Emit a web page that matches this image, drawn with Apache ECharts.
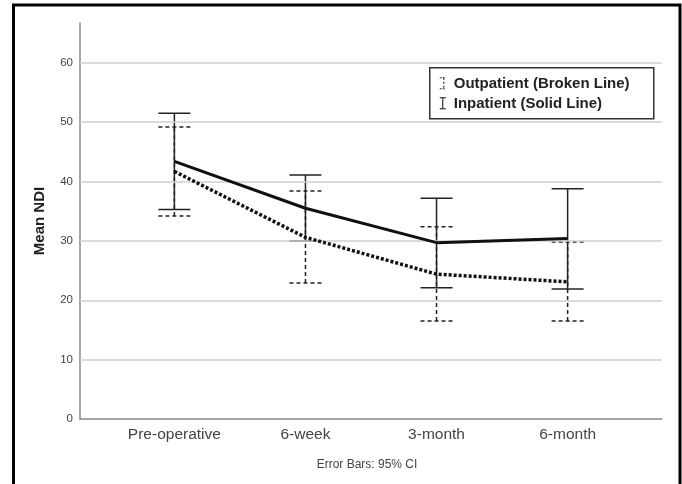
<!DOCTYPE html>
<html>
<head>
<meta charset="utf-8">
<script src="https://cdn.jsdelivr.net/npm/echarts@6/dist/echarts.min.js"></script>
<style>
  html, body { margin: 0; padding: 0; background: #fff; }
  #chart { width: 682px; height: 484px; }
</style>
</head>
<body>
<div id="chart"></div>
<script>
// Time points of the follow-up
const timepoints = ['Pre-operative', '6-week', '3-month', '6-month'];

// Mean NDI with 95% confidence limits
const inpatientMean  = [43.4, 35.5, 29.7, 30.4];
const inpatientLow   = [35.3, 30.0, 22.1, 21.9];
const inpatientHigh  = [51.5, 41.1, 37.2, 38.8];

const outpatientMean = [41.7, 30.6, 24.4, 23.1];
const outpatientLow  = [34.2, 22.9, 16.5, 16.5];
const outpatientHigh = [49.2, 38.4, 32.4, 29.8];

const yTicks = [0, 10, 20, 30, 40, 50, 60];

const FONT = '"Liberation Sans", Arial, sans-serif';

const meanPoints = arr => arr.map((v, i) => [i, v]);
const ciPoints = (lo, hi) => lo.map((v, i) => [i, v, hi[i]]);

// Whisker with caps for one confidence interval
function errorBar(dash) {
  return function (params, api) {
    const x = api.value(0);
    const lo = api.coord([x, api.value(1)]);
    const hi = api.coord([x, api.value(2)]);
    const half = 16;
    const style = { stroke: '#222', lineWidth: 1.5, lineDash: dash, fill: null };
    return {
      type: 'group',
      children: [
        { type: 'line', shape: { x1: lo[0], y1: lo[1], x2: hi[0], y2: hi[1] }, style },
        { type: 'line', shape: { x1: hi[0] - half, y1: hi[1], x2: hi[0] + half, y2: hi[1] }, style },
        { type: 'line', shape: { x1: lo[0] - half, y1: lo[1], x2: lo[0] + half, y2: lo[1] }, style }
      ]
    };
  };
}

const chart = echarts.init(document.getElementById('chart'), null, { renderer: 'canvas' });

chart.setOption({
  backgroundColor: '#fff',
  animation: false,
  textStyle: { fontFamily: FONT },
  grid: { left: 80, right: 20, top: 23, bottom: 65 },
  xAxis: {
    type: 'value',
    min: -0.72,
    max: 3.72,
    axisLine: { show: true, onZero: false, lineStyle: { color: '#8a8a8a', width: 1.5 } },
    axisTick: { show: false },
    splitLine: { show: false },
    axisLabel: {
      customValues: [0, 1, 2, 3],
      formatter: v => timepoints[Math.round(v)],
      color: '#444',
      fontSize: 15.5,
      margin: 8,
      fontFamily: FONT
    }
  },
  yAxis: {
    type: 'value',
    min: 0,
    max: 66.7,
    name: 'Mean NDI',
    nameLocation: 'middle',
    nameGap: 33,
    nameRotate: 90,
    nameTextStyle: { color: '#222', fontSize: 15, fontWeight: 'bold', fontFamily: FONT },
    axisLine: { show: true, onZero: false, lineStyle: { color: '#8a8a8a', width: 1.5 } },
    axisTick: { show: false },
    splitLine: { show: false },
    axisLabel: {
      customValues: yTicks,
      color: '#444',
      fontSize: 11.5,
      margin: 7,
      fontFamily: FONT
    }
  },
  series: [
    {
      // horizontal reference lines
      type: 'line',
      data: [],
      silent: true,
      z: 1,
      markLine: {
        silent: true,
        symbol: 'none',
        label: { show: false },
        lineStyle: { color: '#cfcfcf', width: 1.5, type: 'solid' },
        data: yTicks.filter(v => v > 0).map(v => ({ yAxis: v }))
      }
    },
    {
      name: 'Outpatient CI',
      type: 'custom',
      renderItem: errorBar([4, 3]),
      data: ciPoints(outpatientLow, outpatientHigh),
      encode: { x: 0, y: [1, 2] },
      z: 3
    },
    {
      name: 'Inpatient CI',
      type: 'custom',
      renderItem: errorBar(null),
      data: ciPoints(inpatientLow, inpatientHigh),
      encode: { x: 0, y: [1, 2] },
      z: 4
    },
    {
      name: 'Outpatient',
      type: 'line',
      data: meanPoints(outpatientMean),
      symbol: 'none',
      lineStyle: { color: '#111', width: 3.5, type: [3, 2] },
      z: 5
    },
    {
      name: 'Inpatient',
      type: 'line',
      data: meanPoints(inpatientMean),
      symbol: 'none',
      lineStyle: { color: '#111', width: 3 },
      z: 6
    }
  ],
  graphic: [
    // outer frame
    {
      type: 'rect',
      shape: { x: 13.5, y: 5, width: 666.5, height: 500 },
      style: { fill: null, stroke: '#000', lineWidth: 3 },
      silent: true
    },
    // legend
    {
      type: 'group',
      left: 429,
      top: 67,
      children: [
        { type: 'rect', shape: { x: 0, y: 0, width: 224, height: 51 }, style: { fill: '#fff', stroke: '#333', lineWidth: 1.5 } },
        // dashed whisker glyph
        { type: 'line', shape: { x1: 14, y1: 10, x2: 14, y2: 21 }, style: { stroke: '#333', lineWidth: 1.2, lineDash: [2, 2] } },
        { type: 'line', shape: { x1: 10, y1: 10, x2: 15, y2: 10 }, style: { stroke: '#333', lineWidth: 1.2, lineDash: [2, 1] } },
        { type: 'line', shape: { x1: 10, y1: 21, x2: 15, y2: 21 }, style: { stroke: '#333', lineWidth: 1.2, lineDash: [2, 1] } },
        // solid whisker glyph
        { type: 'line', shape: { x1: 13, y1: 30, x2: 13, y2: 41 }, style: { stroke: '#333', lineWidth: 1.2 } },
        { type: 'line', shape: { x1: 10, y1: 30, x2: 16, y2: 30 }, style: { stroke: '#333', lineWidth: 1.2 } },
        { type: 'line', shape: { x1: 10, y1: 41, x2: 16, y2: 41 }, style: { stroke: '#333', lineWidth: 1.2 } },
        {
          type: 'text', x: 24, y: 16,
          style: { text: 'Outpatient (Broken Line)', fill: '#222', font: 'bold 15px ' + FONT, verticalAlign: 'middle' }
        },
        {
          type: 'text', x: 24, y: 36,
          style: { text: 'Inpatient (Solid Line)', fill: '#222', font: 'bold 15px ' + FONT, verticalAlign: 'middle' }
        }
      ]
    },
    {
      type: 'text',
      x: 367,
      y: 465,
      style: { text: 'Error Bars: 95% CI', fill: '#444', font: '12px ' + FONT, align: 'center', verticalAlign: 'middle' }
    }
  ]
});
</script>
</body>
</html>
